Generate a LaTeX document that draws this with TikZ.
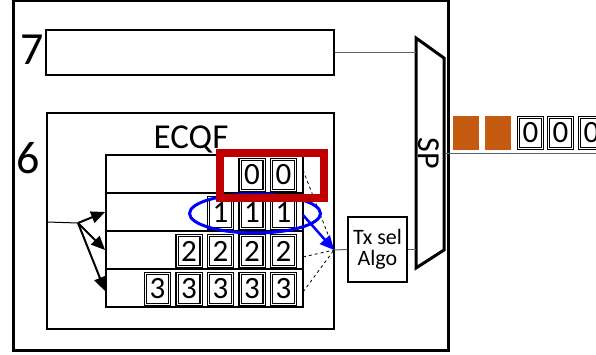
\documentclass[tikz,border=0pt]{standalone}
\usepackage{fontspec}
\setmainfont{Carlito}
\usetikzlibrary{arrows.meta,shapes.geometric}
\definecolor{boxred}{RGB}{192,0,0}
\definecolor{sqorange}{RGB}{197,90,17}
\definecolor{wiregray}{RGB}{95,95,95}
\begin{document}
\begin{tikzpicture}[x=1pt,y=-1pt,
  frame/.style={draw=black,line width=1.8pt,inner sep=0pt},
  cellbox/.style={draw=black,line width=1.3pt,double=white,double distance=0.8pt,
    minimum width=24pt,minimum height=31pt,inner sep=0pt,
    font=\fontsize{31}{31}\selectfont},
  rowbox/.style={draw=black,line width=1.8pt,minimum width=197pt,minimum height=38pt,inner sep=0pt},
  bigdigit/.style={font=\fontsize{46}{46}\selectfont,inner sep=0pt},
  wire/.style={draw=wiregray,line width=1pt},
  fanarrow/.style={line width=2pt,-{Triangle[length=14pt,width=12pt]}},
  sqfill/.style={fill=sqorange,minimum width=26pt,minimum height=34pt,inner sep=0pt}]
\useasboundingbox (0,0) rectangle (596,355);
\clip (0,0) rectangle (596,355);
\fill[white] (0,0) rectangle (596,355);

% outer frame
\node[draw=black,line width=3pt,minimum width=435pt,minimum height=349pt,inner sep=0pt] (outer) at (230.5,175.5) {};

% box 7 and box 6
\node[frame,minimum width=288pt,minimum height=45pt] (b7) at (190,52.5) {};
\node[frame,minimum width=287pt,minimum height=216pt] (b6) at (190.5,221) {};
\node[bigdigit] (l7) at (32,50) {7};
\node[bigdigit] (l6) at (28,158) {6};
\node[font=\fontsize{35}{35}\selectfont,inner sep=0pt] (ecqf) at (191,139) {ECQF};

% queue rows
\node[rowbox] (r0) at (204.5,174) {};
\node[rowbox] (r1) at (204.5,212) {};
\node[rowbox] (r2) at (204.5,250) {};
\node[rowbox] (r3) at (204.5,288) {};

% cells
\node[cellbox] (c01) at (252,175) {0};
\node[cellbox] (c02) at (283.5,175) {0};
\node[cellbox] (c11) at (220.5,213) {1};
\node[cellbox] (c12) at (252,213) {1};
\node[cellbox] (c13) at (283.5,213) {1};
\node[cellbox] (c21) at (189,251) {2};
\node[cellbox] (c22) at (220.5,251) {2};
\node[cellbox] (c23) at (252,251) {2};
\node[cellbox] (c24) at (283.5,251) {2};
\node[cellbox] (c31) at (157.5,289) {3};
\node[cellbox] (c32) at (189,289) {3};
\node[cellbox] (c33) at (220.5,289) {3};
\node[cellbox] (c34) at (252,289) {3};
\node[cellbox] (c35) at (283.5,289) {3};

% input fan
\coordinate (in0) at (47,222);
\coordinate (fan) at (78,223);
\draw[line width=1pt] (in0) -- (fan);
\draw[fanarrow] (fan) -- (r1.west);
\draw[fanarrow] (fan) -- (r2.west);
\draw[fanarrow] (fan) -- ([yshift=-3pt]r3.west);

% dashed lines to merge point
\coordinate (merge) at (334,250);
\coordinate (d0) at (303,170);
\coordinate (d2) at (303,257);
\coordinate (d3) at (303,292);
\draw[line width=0.8pt,dashed] (d0) -- (merge);
\draw[line width=0.8pt,dashed] (d2) -- (merge);
\draw[line width=0.8pt,dashed] (d3) -- (merge);

% blue ellipse
\node[draw=blue,line width=3pt,ellipse,minimum width=131pt,minimum height=39pt,inner sep=0pt] (ell) at (255,213.5) {};

% red highlight
\node[draw=boxred,line width=8pt,minimum width=104pt,minimum height=45pt,inner sep=0pt] (redbox) at (272,175.5) {};

% blue arrow
\coordinate (ba0) at (303,215);
\draw[draw=blue,fill=blue,line width=2.5pt,-{Triangle[length=14pt,width=13pt]}] (ba0) -- (merge);

% Tx sel Algo
\node[draw=black,line width=1.5pt,minimum width=59pt,minimum height=65pt,inner sep=0pt,
  align=center,font=\fontsize{22}{21}\selectfont] (tx) at (377.5,249.5) {Tx sel\\Algo};
\draw[wire] (merge) -- (tx.west);

% SP trapezoid
\coordinate (sp1) at (416,38);
\coordinate (sp2) at (444,58);
\coordinate (sp3) at (444,250);
\coordinate (sp4) at (416,268);
\draw[line width=3pt,line join=miter] (sp1) -- (sp2) -- (sp3) -- (sp4) -- cycle;
\node[rotate=-90,font=\fontsize{32}{32}\selectfont,inner sep=0pt] (sp) at (429,153) {SP};
\coordinate (spin7) at (416,52.5);
\coordinate (spintx) at (416,249.5);
\draw[wire] (b7.east) -- (spin7);
\draw[wire] (tx.east) -- (spintx);

% output
\coordinate (spout) at (446,154);
\coordinate (outend) at (596,154);
\draw[wire] (spout) -- (outend);
\node[sqfill] (sq1) at (466,133) {};
\node[sqfill] (sq2) at (498,133) {};
\node[cellbox] (o1) at (530.5,133) {0};
\node[cellbox] (o2) at (560.5,133) {0};
\node[cellbox] (o3) at (591.5,133) {0};
\end{tikzpicture}
\end{document}
